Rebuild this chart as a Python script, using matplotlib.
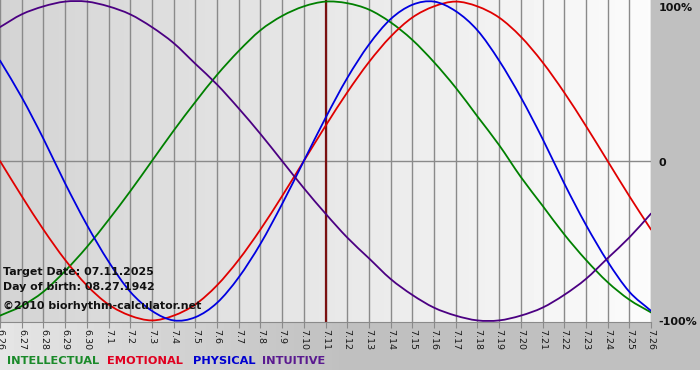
import numpy as np
import matplotlib
matplotlib.use("Agg")
import matplotlib.pyplot as plt
from matplotlib.path import Path
from matplotlib.patches import PathPatch

# day labels (month.day), 6.26 -> 7.26
days = ["6.26", "6.27", "6.28", "6.29", "6.30",
        "7.1", "7.2", "7.3", "7.4", "7.5", "7.6", "7.7", "7.8", "7.9", "7.10",
        "7.11", "7.12", "7.13", "7.14", "7.15", "7.16", "7.17", "7.18", "7.19",
        "7.20", "7.21", "7.22", "7.23", "7.24", "7.25", "7.26"]
target = "7.11"

# values, -1 .. 1
intellectual = [-0.97, -0.91, -0.82, -0.69, -0.54, -0.37, -0.19, 0.0, 0.19, 0.37,
                0.54, 0.69, 0.82, 0.91, 0.97, 1.0, 0.99, 0.95, 0.87, 0.76,
                0.62, 0.46, 0.28, 0.10, -0.10, -0.28, -0.46, -0.62, -0.76, -0.87, -0.95]
emotional = [0.0, -0.22, -0.43, -0.62, -0.78, -0.90, -0.97, -1.0, -0.97, -0.90,
             -0.78, -0.62, -0.43, -0.22, 0.0, 0.22, 0.43, 0.62, 0.78, 0.90,
             0.97, 1.0, 0.97, 0.90, 0.78, 0.62, 0.43, 0.22, 0.0, -0.22, -0.43]
physical = [0.63, 0.40, 0.14, -0.14, -0.40, -0.63, -0.82, -0.94, -1.0, -0.98,
            -0.89, -0.73, -0.52, -0.27, 0.0, 0.27, 0.52, 0.73, 0.89, 0.98,
            1.0, 0.94, 0.82, 0.63, 0.40, 0.14, -0.14, -0.40, -0.63, -0.82, -0.94]
intuitive = [0.84, 0.92, 0.97, 1.0, 1.0, 0.97, 0.92, 0.84, 0.74, 0.61,
             0.48, 0.33, 0.17, 0.0, -0.17, -0.33, -0.48, -0.61, -0.74, -0.84,
             -0.92, -0.97, -1.0, -1.0, -0.97, -0.92, -0.84, -0.74, -0.61, -0.48, -0.33]


def smooth_line(ax, xs, ys, color):
    # catmull-rom through the daily points, drawn as bezier path
    p = np.column_stack([xs, ys]).astype(float)
    ext = np.vstack([2 * p[0] - p[1], p, 2 * p[-1] - p[-2]])
    verts = [p[0]]
    codes = [Path.MOVETO]
    for i in range(1, len(ext) - 2):
        p0, p1, p2, p3 = ext[i - 1], ext[i], ext[i + 1], ext[i + 2]
        verts += [p1 + (p2 - p0) / 6, p2 - (p3 - p1) / 6, p2]
        codes += [Path.CURVE4] * 3
    ax.add_patch(PathPatch(Path(verts, codes), fill=False, edgecolor=color,
                           lw=1.3, zorder=3, capstyle="round"))


W, H = 700, 380
fig = plt.figure(figsize=(W / 100, H / 100), dpi=100)

# figure background: light at lower left, grey elsewhere
bg = fig.add_axes([0, 0, 1, 1], zorder=-5)
gx = np.linspace(0, 1, 200)
shade = np.clip(0.90 - 0.15 * gx / 0.5, 0.75, 0.90)
bg.imshow(np.tile(shade, (2, 1)), cmap="gray", vmin=0, vmax=1, aspect="auto",
          extent=[0, 1, 0, 1])
bg.add_patch(plt.Rectangle((0, 0), 1, 10 / H, color="white", lw=0))
bg.set_xlim(0, 1)
bg.set_ylim(0, 1)
bg.axis("off")

ax = fig.add_axes([0, (H - 322) / H, 651 / W, 322 / H])
x = np.arange(len(days))
ax.set_xlim(0, len(days) - 1)
ax.set_ylim(-1.01, 1.01)

# plot area gradient grey -> white
grad = np.linspace(0.83, 0.985, 200)
ax.imshow(np.tile(grad, (2, 1)), cmap="gray", vmin=0, vmax=1, aspect="auto",
          extent=[0, len(days) - 1, -1.01, 1.01], zorder=0)

for xi in x:
    ax.axvline(xi, color="#8a8a8a", lw=1, zorder=1)
ax.axhline(0, color="#8a8a8a", lw=1, zorder=1)
ax.axvline(days.index(target), color="#7a1010", lw=1.6, zorder=2)

smooth_line(ax, x, intellectual, "#008000")
smooth_line(ax, x, emotional, "#e00000")
smooth_line(ax, x, physical, "#0000e0")
smooth_line(ax, x, intuitive, "#4b0082")

for s in ["top", "left", "right"]:
    ax.spines[s].set_visible(False)
ax.spines["bottom"].set_color("#8a8a8a")
ax.set_yticks([])
ax.set_xticks(x)
ax.set_xticklabels(days, rotation=-90, fontsize=6.8, color="#1a1a1a")
ax.tick_params(axis="x", length=4, color="#8a8a8a", pad=1)

bold = dict(fontweight="bold", fontsize=8, color="#111111")
ax.text(1.012, 0.975, "100%", transform=ax.transAxes, va="center", ha="left", **bold)
ax.text(1.012, 0.495, "0", transform=ax.transAxes, va="center", ha="left", **bold)
ax.text(1.012, 0.0, "-100%", transform=ax.transAxes, va="center", ha="left", **bold)

info = dict(fontweight="bold", fontsize=7.9, color="#111111", transform=ax.transAxes)
ax.text(0.004, (322 - 272) / 322, "Target Date: 07.11.2025", va="center", **info)
ax.text(0.004, (322 - 287) / 322, "Day of birth: 08.27.1942", va="center", **info)
ax.text(0.004, (322 - 306) / 322, "\u00a92010 biorhythm-calculator.net", va="center", **info)

# legend line at the bottom
leg_y = (H - 361) / H
for px, name, col in [(7, "INTELLECTUAL", "#1a8a2a"), (107, "EMOTIONAL", "#e00020"),
                      (193, "PHYSICAL", "#0000d0"), (262, "INTUITIVE", "#5a1a90")]:
    fig.text(px / W, leg_y, name, color=col, fontweight="bold", fontsize=8.2, va="center")

fig.savefig("out.png", dpi=100)
